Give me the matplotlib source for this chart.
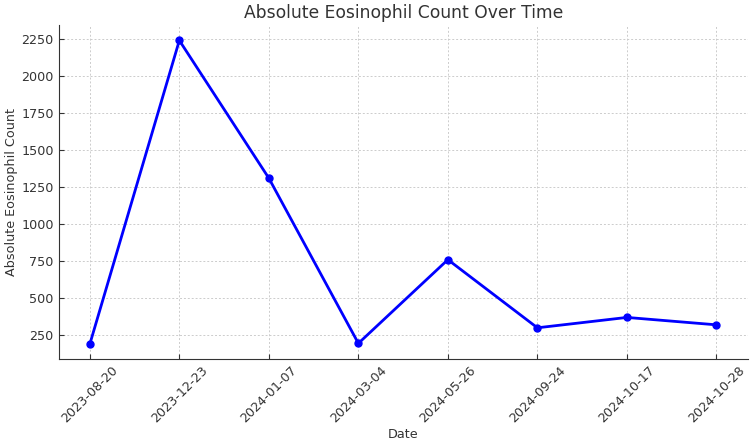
import matplotlib
matplotlib.use("Agg")
import matplotlib.pyplot as plt
from matplotlib.ticker import MultipleLocator

dates = ["2023-08-20", "2023-12-23", "2024-01-07", "2024-03-04",
         "2024-05-26", "2024-09-24", "2024-10-17", "2024-10-28"]
counts = [190, 2240, 1310, 195, 760, 300, 370, 320]

plt.rcParams["font.family"] = "DejaVu Sans"
plt.rcParams["text.color"] = "#333333"
plt.rcParams["axes.labelcolor"] = "#333333"
plt.rcParams["xtick.color"] = "#333333"
plt.rcParams["ytick.color"] = "#333333"

fig, ax = plt.subplots(figsize=(7.5, 4.43), dpi=100)

ax.plot(dates, counts, color="#0000ff", marker="o", markersize=5, linewidth=2)

ax.set_title("Absolute Eosinophil Count Over Time", fontsize=12.3, pad=5)
ax.set_xlabel("Date", fontsize=9.2, labelpad=2)
ax.set_ylabel("Absolute Eosinophil Count", fontsize=9.2, labelpad=2)

ax.yaxis.set_major_locator(MultipleLocator(250))
ax.grid(True, linestyle=(0, (2, 2)), color="#cccccc", linewidth=0.7)
ax.spines["top"].set_visible(False)
ax.spines["right"].set_visible(False)
ax.spines["left"].set_color("#333333")
ax.spines["bottom"].set_color("#333333")
ax.tick_params(direction="in", labelsize=9.2)
plt.xticks(rotation=45)

plt.subplots_adjust(left=0.078, right=0.997, top=0.943, bottom=0.189)
plt.savefig("out.png")
